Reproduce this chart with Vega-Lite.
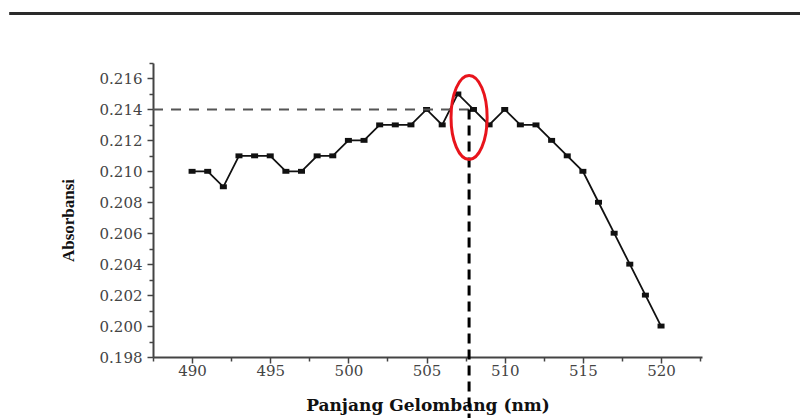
{
  "$schema": "https://vega.github.io/schema/vega-lite/v6.json",
  "width": 549,
  "height": 294,
  "autosize": {"type": "none"},
  "padding": {"left": 153, "top": 63, "right": 98, "bottom": 61},
  "background": "white",
  "config": {"view": {"stroke": null}},
  "datasets": {
    "spectrum": [
      {"wl": 490, "abs": 0.210}, {"wl": 491, "abs": 0.210}, {"wl": 492, "abs": 0.209},
      {"wl": 493, "abs": 0.211}, {"wl": 494, "abs": 0.211}, {"wl": 495, "abs": 0.211},
      {"wl": 496, "abs": 0.210}, {"wl": 497, "abs": 0.210}, {"wl": 498, "abs": 0.211},
      {"wl": 499, "abs": 0.211}, {"wl": 500, "abs": 0.212}, {"wl": 501, "abs": 0.212},
      {"wl": 502, "abs": 0.213}, {"wl": 503, "abs": 0.213}, {"wl": 504, "abs": 0.213},
      {"wl": 505, "abs": 0.214}, {"wl": 506, "abs": 0.213}, {"wl": 507, "abs": 0.215},
      {"wl": 508, "abs": 0.214}, {"wl": 509, "abs": 0.213}, {"wl": 510, "abs": 0.214},
      {"wl": 511, "abs": 0.213}, {"wl": 512, "abs": 0.213}, {"wl": 513, "abs": 0.212},
      {"wl": 514, "abs": 0.211}, {"wl": 515, "abs": 0.210}, {"wl": 516, "abs": 0.208},
      {"wl": 517, "abs": 0.206}, {"wl": 518, "abs": 0.204}, {"wl": 519, "abs": 0.202},
      {"wl": 520, "abs": 0.200}
    ],
    "topline": [{"x1": 478.3, "x2": 529.5, "y": 0.2202}],
    "hline": [{"x1": 487.5, "x2": 507.7, "y": 0.214}],
    "vline": [{"x": 507.72, "y1": 0.214, "y2": 0.1935}],
    "ellipse": [{"x": 507.72, "y": 0.21348}]
  },
  "resolve": {"axis": {"x": "independent", "y": "independent"}},
  "layer": [
    {
      "data": {"name": "spectrum"},
      "mark": {"type": "line", "color": "#111", "strokeWidth": 1.8},
      "encoding": {
        "x": {
          "field": "wl", "type": "quantitative",
          "scale": {"domain": [487.5, 522.62], "zero": false, "nice": false},
          "axis": {
            "orient": "bottom",
            "title": "Panjang Gelombang (nm)",
            "values": [490, 495, 500, 505, 510, 515, 520],
            "format": "d",
            "grid": false, "labelOverlap": false, "labelFlush": false,
            "domainColor": "#444", "domainWidth": 2,
            "tickColor": "#444", "tickWidth": 1.5, "tickSize": 6,
            "labelFont": "DejaVu Serif", "labelFontSize": 15, "labelColor": "#444",
            "labelPadding": 0,
            "titleFont": "DejaVu Serif", "titleFontSize": 17, "titleFontWeight": "bold",
            "titleColor": "#111", "titlePadding": 19
          }
        },
        "y": {
          "field": "abs", "type": "quantitative",
          "scale": {"domain": [0.198, 0.217], "zero": false, "nice": false},
          "axis": {
            "orient": "left",
            "title": "Absorbansi",
            "values": [0.198, 0.2, 0.202, 0.204, 0.206, 0.208, 0.21, 0.212, 0.214, 0.216],
            "format": ".3f",
            "grid": false, "labelOverlap": false, "labelFlush": false,
            "domainColor": "#444", "domainWidth": 2,
            "tickColor": "#444", "tickWidth": 1.5, "tickSize": 6,
            "labelFont": "DejaVu Serif", "labelFontSize": 15, "labelColor": "#444",
            "labelPadding": 5,
            "titleFont": "Liberation Serif", "titleFontSize": 17, "titleFontWeight": "bold",
            "titleColor": "#111", "titlePadding": 22, "titleY": 157
          }
        }
      }
    },
    {
      "data": {"name": "spectrum"},
      "mark": {"type": "point", "shape": "M-1,-0.7L1,-0.7L1,0.7L-1,0.7Z", "size": 49, "filled": true, "color": "#111", "opacity": 1},
      "encoding": {
        "x": {
          "field": "wl", "type": "quantitative",
          "axis": {
            "orient": "bottom", "title": null, "labels": false, "grid": false, "domain": false,
            "values": [487.5, 492.5, 497.5, 502.5, 507.5, 512.5, 517.5, 522.5],
            "tickColor": "#444", "tickWidth": 1.5, "tickSize": 4
          }
        },
        "y": {
          "field": "abs", "type": "quantitative",
          "axis": {
            "orient": "left", "title": null, "labels": false, "grid": false, "domain": false,
            "values": [0.199, 0.201, 0.203, 0.205, 0.207, 0.209, 0.211, 0.213, 0.215, 0.217],
            "tickColor": "#444", "tickWidth": 1.5, "tickSize": 4
          }
        }
      }
    },
    {
      "data": {"name": "hline"},
      "mark": {"type": "rule", "color": "#555", "strokeWidth": 2, "strokeDash": [10, 8], "clip": false},
      "encoding": {
        "x": {"field": "x1", "type": "quantitative", "axis": null},
        "x2": {"field": "x2"},
        "y": {"field": "y", "type": "quantitative", "axis": null}
      }
    },
    {
      "data": {"name": "vline"},
      "mark": {"type": "rule", "color": "#000", "strokeWidth": 3, "strokeDash": [10, 6], "clip": false},
      "encoding": {
        "x": {"field": "x", "type": "quantitative", "axis": null},
        "y": {"field": "y1", "type": "quantitative", "axis": null},
        "y2": {"field": "y2"}
      }
    },
    {
      "data": {"name": "ellipse"},
      "mark": {"type": "point", "shape": "M0,-1A0.43,1 0 1,1 0,1A0.43,1 0 1,1 0,-1Z", "size": 7056, "filled": false, "stroke": "#e8141c", "strokeWidth": 3, "opacity": 1, "clip": false},
      "encoding": {
        "x": {"field": "x", "type": "quantitative", "axis": null},
        "y": {"field": "y", "type": "quantitative", "axis": null}
      }
    },
    {
      "data": {"name": "topline"},
      "mark": {"type": "rule", "color": "#2a2a2a", "strokeWidth": 3, "clip": false},
      "encoding": {
        "x": {"field": "x1", "type": "quantitative", "axis": null},
        "x2": {"field": "x2"},
        "y": {"field": "y", "type": "quantitative", "axis": null}
      }
    }
  ]
}
